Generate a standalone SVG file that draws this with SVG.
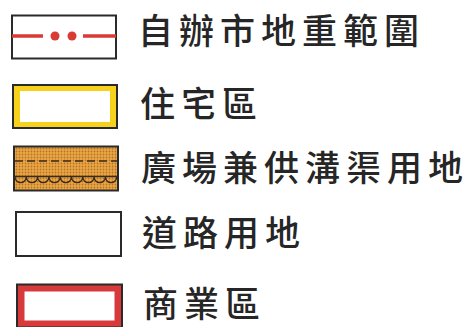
<svg xmlns="http://www.w3.org/2000/svg" width="470" height="327" viewBox="0 0 470 327">
<style>
.lbl{font-family:"Noto Sans CJK TC","Noto Sans CJK SC",sans-serif;font-size:35px;font-weight:500;fill:#262626;letter-spacing:6px}
.box{stroke:#2a2a2a;stroke-width:2}
</style>
<defs>
<pattern id="dots" width="3" height="3" patternUnits="userSpaceOnUse">
<rect width="3" height="3" fill="#e9a748"/>
<circle cx="1.5" cy="1.5" r="0.9" fill="#b8731e"/>
</pattern>
</defs>
<rect width="470" height="327" fill="#ffffff"/>
<g id="legend-boundary">
<rect class="box" x="12" y="15.5" width="104" height="43" fill="#ffffff"/>
<line x1="12" y1="36" x2="43" y2="36" stroke="#d93a34" stroke-width="3.5"/>
<circle cx="55" cy="36" r="4.5" fill="#d93a34"/>
<circle cx="72" cy="36" r="4.5" fill="#d93a34"/>
<line x1="83" y1="36" x2="116" y2="36" stroke="#d93a34" stroke-width="3.5"/>
<text class="lbl" x="138" y="44">自辦市地重範圍</text>
</g>
<g id="legend-residential">
<rect class="box" x="13" y="85" width="104" height="43" fill="#f6d21c"/>
<rect x="20" y="91" width="90" height="31" fill="#ffffff"/>
<text class="lbl" x="140" y="117">住宅區</text>
</g>
<g id="legend-plaza">
<rect class="box" x="14" y="146.5" width="104" height="44" fill="url(#dots)"/>
<line x1="15" y1="161" x2="117" y2="161" stroke="#3a2a1a" stroke-width="1.6" stroke-dasharray="8 4"/>
<line x1="15" y1="176.5" x2="117" y2="176.5" stroke="#3a2a1a" stroke-width="1.6"/>
<path d="M15 177 a5.6 5.6 0 0 0 11.3 0 a5.6 5.6 0 0 0 11.3 0 a5.6 5.6 0 0 0 11.3 0 a5.6 5.6 0 0 0 11.3 0 a5.6 5.6 0 0 0 11.3 0 a5.6 5.6 0 0 0 11.3 0 a5.6 5.6 0 0 0 11.3 0 a5.6 5.6 0 0 0 11.3 0 a5.6 5.6 0 0 0 11.3 0" fill="none" stroke="#3a2a1a" stroke-width="1.4"/>
<text class="lbl" x="141" y="181">廣場兼供溝渠用地</text>
</g>
<g id="legend-road">
<rect class="box" x="16" y="212" width="105" height="44" fill="#ffffff"/>
<text class="lbl" x="142" y="246">道路用地</text>
</g>
<g id="legend-commercial">
<rect class="box" x="17" y="284.5" width="105" height="43" fill="#d8393a"/>
<rect x="24.5" y="291.5" width="90" height="29" fill="#ffffff"/>
<text class="lbl" x="143" y="317">商業區</text>
</g>
</svg>
